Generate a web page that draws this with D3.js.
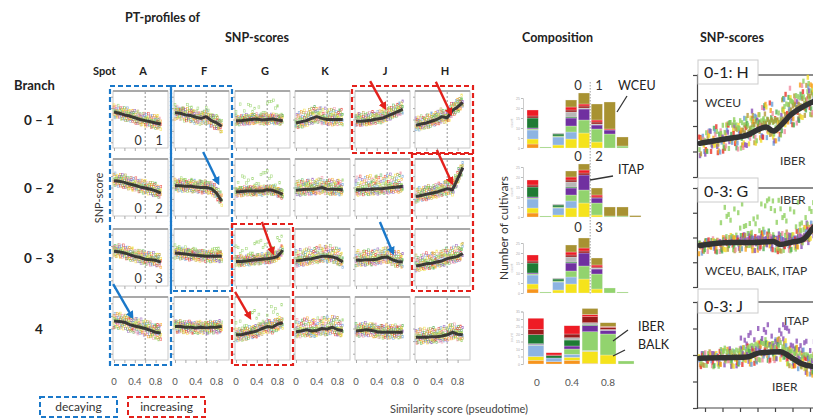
<!DOCTYPE html>
<html>
<head>
<meta charset="utf-8">
<script src="https://cdn.jsdelivr.net/npm/d3@7"></script>
<style>
  body { margin: 0; background: #fff; }
  svg { display: block; font-family: Lato, "Open Sans", sans-serif; }
</style>
</head>
<body>
<div id="wrapper"></div>
<script>
// ---- data ----
const spots = ["A", "F", "G", "K", "J", "H"]
const branches = ["0 – 1", "0 – 2", "0 – 3", "4"]
const branchTags = [["0", "1"], ["0", "2"], ["0", "3"], null]
const trendX = [0, 0.1, 0.2, 0.3, 0.4, 0.5, 0.6, 0.7, 0.8, 0.9]

// smoothed SNP-score per spot, one row per branch (A, F, G, K, J, H)
const trendBranch01 = [
  [0.63, 0.61, 0.58, 0.56, 0.53, 0.50, 0.48, 0.46, 0.44, 0.42],
  [0.62, 0.61, 0.58, 0.57, 0.54, 0.52, 0.55, 0.48, 0.44, 0.38],
  [0.48, 0.48, 0.49, 0.50, 0.51, 0.49, 0.50, 0.51, 0.49, 0.48],
  [0.44, 0.46, 0.48, 0.52, 0.55, 0.52, 0.50, 0.50, 0.50, 0.50],
  [0.47, 0.47, 0.48, 0.49, 0.51, 0.52, 0.56, 0.60, 0.64, 0.68],
  [0.40, 0.42, 0.44, 0.47, 0.50, 0.55, 0.53, 0.66, 0.72, 0.80]
]
const trendBranch02 = [
  [0.62, 0.61, 0.59, 0.56, 0.54, 0.51, 0.49, 0.47, 0.44, 0.40],
  [0.53, 0.53, 0.52, 0.52, 0.51, 0.50, 0.50, 0.48, 0.40, 0.26],
  [0.42, 0.43, 0.44, 0.44, 0.44, 0.44, 0.46, 0.45, 0.42, 0.38],
  [0.45, 0.46, 0.47, 0.47, 0.48, 0.50, 0.47, 0.47, 0.47, 0.46],
  [0.46, 0.46, 0.47, 0.47, 0.48, 0.48, 0.49, 0.50, 0.51, 0.52],
  [0.34, 0.36, 0.38, 0.40, 0.42, 0.45, 0.48, 0.46, 0.65, 0.85]
]
const trendBranch03 = [
  [0.61, 0.60, 0.58, 0.55, 0.52, 0.50, 0.47, 0.46, 0.45, 0.42],
  [0.58, 0.57, 0.56, 0.55, 0.54, 0.53, 0.52, 0.52, 0.52, 0.52],
  [0.43, 0.43, 0.44, 0.45, 0.46, 0.47, 0.48, 0.49, 0.52, 0.63],
  [0.44, 0.45, 0.47, 0.48, 0.50, 0.52, 0.52, 0.51, 0.48, 0.42],
  [0.45, 0.45, 0.46, 0.46, 0.47, 0.50, 0.51, 0.46, 0.43, 0.42],
  [0.35, 0.37, 0.39, 0.40, 0.42, 0.44, 0.48, 0.50, 0.52, 0.57]
]
const trendBranch4 = [
  [0.62, 0.61, 0.60, 0.56, 0.54, 0.52, 0.50, 0.47, 0.44, 0.43],
  [0.53, 0.53, 0.52, 0.52, 0.51, 0.52, 0.51, 0.52, 0.52, 0.53],
  [0.40, 0.40, 0.42, 0.44, 0.46, 0.50, 0.53, 0.52, 0.57, 0.59],
  [0.45, 0.46, 0.48, 0.46, 0.47, 0.50, 0.49, 0.52, 0.48, 0.47],
  [0.46, 0.47, 0.48, 0.47, 0.45, 0.44, 0.44, 0.44, 0.44, 0.44],
  [0.36, 0.36, 0.36, 0.37, 0.37, 0.38, 0.40, 0.44, 0.41, 0.40]
]
const trends = [trendBranch01, trendBranch02, trendBranch03, trendBranch4]

// spread of the single-cultivar scores around the trend (above / below), green outliers
const spreadUp = [
  [0.14, 0.12, 0.10, 0.20, 0.15, 0.15],
  [0.14, 0.12, 0.08, 0.18, 0.25, 0.15],
  [0.14, 0.10, 0.10, 0.20, 0.18, 0.20],
  [0.14, 0.10, 0.10, 0.20, 0.12, 0.15]
]
const spreadDown = [
  [0.10, 0.12, 0.08, 0.10, 0.08, 0.10],
  [0.10, 0.10, 0.08, 0.10, 0.10, 0.10],
  [0.10, 0.10, 0.08, 0.10, 0.10, 0.10],
  [0.12, 0.10, 0.10, 0.10, 0.10, 0.10]
]
const greenUp = [
  [0.05, 0.20, 0.35, 0.10, 0.10, 0.10],
  [0.05, 0.15, 0.35, 0.10, 0.10, 0.15],
  [0.05, 0.15, 0.35, 0.05, 0.05, 0.10],
  [0.05, 0.05, 0.35, 0.05, 0.05, 0.05]
]
const jitter = [0.62, -0.35, 0.88, -0.71, 0.15, -0.93, 0.44, -0.12, 0.77, -0.54,
  0.29, -0.82, 0.95, -0.25, 0.51, -0.66, 0.08, -0.47, 0.70, -0.05,
  0.36, -0.89, 0.58, -0.31, 0.21, -0.76, 0.83, -0.18, 0.40]
const dotColors = ["#e8332a", "#f7a21b", "#f2dc2b", "#8fcf5f", "#4fae4f",
  "#6a9fd8", "#8a4fb5", "#b59a3a", "#f08ca0"]

// highlighted profiles
const decaying = [{ cols: [0, 0], rows: [0, 3] }, { cols: [1, 1], rows: [0, 2] }]
const increasing = [{ cols: [4, 5], rows: [0, 0] }, { cols: [5, 5], rows: [1, 2] }, { cols: [2, 2], rows: [2, 3] }]
// arrows: tip in panel coordinates, tail as pixel offset
const arrows = [
  { kind: "red", row: 0, col: 4, x: 0.56, y: 0.70, dx: -15, dy: -27 },
  { kind: "red", row: 0, col: 5, x: 0.67, y: 0.60, dx: -15, dy: -32 },
  { kind: "red", row: 1, col: 5, x: 0.69, y: 0.58, dx: -15, dy: -33 },
  { kind: "blue", row: 1, col: 1, x: 0.83, y: 0.58, dx: -15, dy: -31 },
  { kind: "red", row: 2, col: 2, x: 0.71, y: 0.58, dx: -11, dy: -31 },
  { kind: "red", row: 3, col: 2, x: 0.27, y: 0.67, dx: -15, dy: -26 },
  { kind: "blue", row: 2, col: 4, x: 0.71, y: 0.58, dx: -13, dy: -31 },
  { kind: "blue", row: 3, col: 0, x: 0.35, y: 0.68, dx: -19, dy: -33 }
]

// composition: number of cultivars per pseudotime bin, stacked by group
const groups = ["orange", "BALK", "blue", "IBER", "ITAP", "darkgreen", "grey", "darkred", "red", "WCEU"]
const groupColors = ["#f7941d", "#f5e31c", "#8db4e2", "#92d36e", "#7030a0",
  "#1e7b34", "#b7b7b7", "#9b1b1b", "#ee1c25", "#a89232"]
const comp01 = [
  [2, 2.5, 4.5, 0.5, 0.5, 5, 0, 1, 3, 0],
  [0, 0, 0, 0.5, 0, 0, 0, 0, 0, 0],
  [0, 1.5, 4, 0.5, 0, 1, 0.5, 0, 0, 0],
  [0, 4.5, 3.5, 3, 4, 0.5, 2.5, 1, 1.5, 3.5],
  [0, 7.5, 0, 6.5, 5.5, 0, 0.5, 1, 1, 5.5],
  [0, 3, 0, 6.5, 2, 0, 0.5, 1, 1, 8],
  [0, 0, 0, 7, 2, 0, 0, 0, 0.5, 13.5],
  [0, 0, 0, 1, 0, 0, 0, 0, 0, 4.5],
  [0, 0, 0, 0, 0, 0, 0, 0, 0, 0]
]
const comp02 = [
  [2, 2.5, 4.5, 0.5, 0.5, 5, 0, 1, 2.5, 0],
  [0, 0, 0, 0.5, 0, 0, 0, 0, 0, 0],
  [0, 1, 3.5, 0.5, 0, 1, 0.5, 0, 0, 0],
  [0, 4.5, 3.5, 3, 3.5, 0.5, 2.5, 1, 1.5, 3],
  [0, 7, 0, 6.5, 7.5, 0, 0, 1, 1.5, 3],
  [0, 1, 0, 6, 2.5, 0, 0, 0.5, 1, 3.5],
  [0, 0, 0, 0.5, 0, 0, 0, 0, 0, 4.5],
  [0, 0, 0, 0.5, 0, 0, 0, 0, 0, 4.5],
  [0, 0, 0, 0, 0, 0, 0, 0, 0, 0.7]
]
const comp03 = [
  [2, 2.5, 4.5, 0.5, 0.5, 5, 0, 1, 3, 0],
  [0, 0, 0, 0.5, 0, 0, 0, 0, 0, 0],
  [0, 1.5, 4, 0.5, 0, 1, 0.5, 0, 0, 0],
  [0, 4.5, 3.5, 3, 4, 0.5, 2.5, 1, 1.5, 3.5],
  [0, 7, 0, 6.5, 6.5, 0, 0, 1, 1.5, 5],
  [0, 2, 0, 7.5, 2.5, 0, 0.5, 0.5, 1, 3.5],
  [0, 0, 0, 2.5, 0, 0, 0, 0, 0, 0],
  [0, 0, 0, 0.5, 0, 0, 0, 0, 0, 0],
  [0, 0, 0, 0, 0, 0, 0, 0, 0, 0]
]
const comp4 = [
  [2.5, 2.5, 7.5, 0.5, 0.5, 6, 0, 3.5, 7.5, 0],
  [1.5, 0, 2.5, 0, 0, 1.5, 0, 0.5, 1.5, 0],
  [2.5, 2, 2, 3.5, 2, 4, 1.5, 2.5, 5.5, 0],
  [0.5, 8, 0.5, 12.5, 4, 0.5, 1.5, 4, 1.5, 4],
  [0, 6, 0, 14, 2.5, 0, 0.5, 1.5, 0.5, 2.5],
  [0, 0, 0, 2, 0, 0, 0, 0, 0, 0]
]
const compTicks = [0, 5, 10, 15, 20, 25]
const comp4Ticks = [0, 5, 10, 15, 20, 25, 30, 35]
const compXLabels = ["0", "0.4", "0.8"]

// zoomed SNP-score profiles on the right
const zoomTitles = ["0-1: H", "0-3: G", "0-3: J"]
const zoomX1 = [-0.03, 0.14, 0.24, 0.31, 0.35, 0.39, 0.43, 0.49, 0.56, 0.62, 0.71]
const zoomY1 = [0.33, 0.38, 0.41, 0.47, 0.49, 0.45, 0.50, 0.61, 0.69, 0.74, 0.80]
const zoomX2 = [-0.03, 0.14, 0.27, 0.39, 0.43, 0.49, 0.56, 0.62, 0.70]
const zoomY2 = [0.42, 0.45, 0.45, 0.46, 0.43, 0.45, 0.48, 0.60, 0.72]
const zoomX3 = [-0.03, 0.24, 0.31, 0.43, 0.49, 0.55, 0.62, 0.70]
const zoomY3 = [0.47, 0.48, 0.52, 0.53, 0.48, 0.42, 0.39, 0.38]
const zoomUp = [0.28, 0.12, 0.14]
const zoomDown = [0.13, 0.09, 0.09]
const zoomGreen = [0.12, 0.42, 0.06]
const zoomPurple = [0.08, 0.03, 0.26]

// ---- layout ----
const colLeft = [114, 175, 236, 296, 356, 416]
const rowTop = [91, 159, 229, 297]
const rowH = [57, 57, 57, 63]
const panelW = 52

const svg = d3.select("#wrapper").append("svg")
    .attr("width", 813)
    .attr("height", 419)

const defs = svg.append("defs")
const arrowColor = { red: "#e3211c", blue: "#1a78c9" }
Object.entries(arrowColor).forEach(([id, col]) => {
  defs.append("marker")
      .attr("id", "head-" + id)
      .attr("viewBox", "0 0 10 10")
      .attr("refX", 7).attr("refY", 5)
      .attr("markerWidth", 3.4).attr("markerHeight", 3.4)
      .attr("orient", "auto")
    .append("path")
      .attr("d", "M0,0L10,5L0,10z")
      .attr("fill", col)
})

function label(x, y, txt, opts = {}) {
  return svg.append("text")
      .attr("x", x).attr("y", y)
      .attr("font-size", opts.size || 12)
      .attr("font-weight", opts.bold ? 700 : 400)
      .attr("fill", opts.color || "#222")
      .attr("text-anchor", opts.anchor || "start")
      .text(txt)
}

// headings
label(125, 22, "PT-profiles of", { bold: true, size: 12.5 })
label(225, 42, "SNP-scores", { bold: true, size: 12.5 })
label(522, 42, "Composition", { bold: true, size: 12.5 })
label(700, 42, "SNP-scores", { bold: true, size: 12.5 })
label(14, 90, "Branch", { bold: true, size: 13 })
label(93, 75, "Spot", { bold: true, size: 11 })
spots.forEach((s, c) => label(colLeft[c] + 29, 75, s, { bold: true, size: 11, anchor: "middle" }))
branches.forEach((b, r) => label(39, rowTop[r] + rowH[r] / 2 + 5, b, { bold: true, size: 13.5, anchor: "middle" }))

svg.append("text")
    .attr("transform", "translate(103,198) rotate(-90)")
    .attr("text-anchor", "middle")
    .attr("font-size", 11)
    .attr("fill", "#333")
    .text("SNP-score")

// ---- PT-profile panels ----
const panelScales = []
trends.forEach((row, r) => {
  panelScales[r] = []
  row.forEach((values, c) => {
    const L = colLeft[c], T = rowTop[r], Hh = rowH[r]
    const x = d3.scaleLinear().domain([0, 1]).range([L, L + panelW])
    const y = d3.scaleLinear().domain([0, 1]).range([T + Hh, T])
    panelScales[r][c] = { x, y }
    const g = svg.append("g")

    g.append("rect")
        .attr("x", L - 1).attr("y", T)
        .attr("width", panelW + 3).attr("height", Hh)
        .attr("fill", "#fff")
        .attr("stroke", "#c8c8c8")
        .attr("stroke-width", 1)
    g.append("line")
        .attr("x1", L - 1).attr("x2", L + panelW + 2)
        .attr("y1", T).attr("y2", T)
        .attr("stroke", "#a9a9a9").attr("stroke-width", 2)

    const xAxis = g.append("g")
        .attr("transform", `translate(0,${T + Hh})`)
        .call(d3.axisBottom(x).tickValues([0, 0.2, 0.4, 0.6, 0.8]).tickSize(3).tickFormat(""))
    const yAxis = g.append("g")
        .attr("transform", `translate(${L - 1},0)`)
        .call(d3.axisLeft(y).tickValues([0.1, 0.3, 0.5, 0.7, 0.9]).tickSize(2).tickFormat(""))
    ;[xAxis, yAxis].forEach(a => {
      a.select(".domain").remove()
      a.selectAll("line").attr("stroke", "#aaa")
    })

    g.append("line")
        .attr("x1", x(0.6)).attr("x2", x(0.6))
        .attr("y1", T + 1).attr("y2", T + Hh)
        .attr("stroke", "#777").attr("stroke-width", 0.8)
        .attr("stroke-dasharray", "2,2")

    const trendAt = d3.scaleLinear().domain(trendX).range(values)
    const dots = []
    for (let i = 0; i <= 45; i++) {
      const xv = i * 0.02
      for (let k = 0; k < 3; k++) {
        const j = jitter[(i * 3 + k + r * 7 + c * 5) % jitter.length]
        const yv = trendAt(xv) + (j > 0 ? j * spreadUp[r][c] : j * spreadDown[r][c])
        dots.push({ x: xv, y: yv, color: dotColors[(i * 3 + k + c) % dotColors.length] })
      }
      if (i % 2 === 0) {
        const j = Math.abs(jitter[(i * 5 + r + c * 3) % jitter.length])
        dots.push({ x: xv, y: trendAt(xv) + j * greenUp[r][c], color: "#8fcf5f" })
      }
    }
    g.selectAll(".dot").data(dots).join("rect")
        .attr("x", d => x(d.x) - 0.9)
        .attr("y", d => y(d.y) - 1.2)
        .attr("width", 1.8).attr("height", 2.4)
        .attr("fill", "none")
        .attr("stroke", d => d.color)
        .attr("stroke-width", 0.6)
        .attr("opacity", 0.75)

    g.append("path")
        .datum(trendX.map((xv, i) => [xv, values[i]]))
        .attr("d", d3.line().x(d => x(d[0])).y(d => y(d[1])))
        .attr("fill", "none")
        .attr("stroke", "#2b2b2b")
        .attr("stroke-width", 3)
        .attr("stroke-linejoin", "round")
        .attr("opacity", 0.9)

    if (c === 0 && branchTags[r]) {
      label(L + 24, T + Hh - 3, branchTags[r][0], { size: 12.5, color: "#333", anchor: "middle" })
      label(L + 45, T + Hh - 3, branchTags[r][1], { size: 12.5, color: "#333", anchor: "middle" })
    }
  })
})

// column tick labels
colLeft.forEach(L => {
  const x = d3.scaleLinear().domain([0, 1]).range([L, L + panelW])
  ;[0, 0.4, 0.8].forEach(v => label(x(v), 385, String(v), { size: 9.5, color: "#555", anchor: "middle" }))
})

// dashed boxes
function dashedBox(b, col) {
  const x0 = colLeft[b.cols[0]] - 4, x1 = colLeft[b.cols[1]] + 57
  const y0 = rowTop[b.rows[0]] - 5, y1 = rowTop[b.rows[1]] + rowH[b.rows[1]] + 5
  svg.append("rect")
      .attr("x", x0).attr("y", y0)
      .attr("width", x1 - x0).attr("height", y1 - y0)
      .attr("fill", "none")
      .attr("stroke", col).attr("stroke-width", 2.2)
      .attr("stroke-dasharray", "5,3")
}
decaying.forEach(b => dashedBox(b, arrowColor.blue))
increasing.forEach(b => dashedBox(b, arrowColor.red))

arrows.forEach(a => {
  const s = panelScales[a.row][a.col]
  const tx = s.x(a.x), ty = s.y(a.y)
  svg.append("line")
      .attr("x1", tx + a.dx).attr("y1", ty + a.dy)
      .attr("x2", tx).attr("y2", ty)
      .attr("stroke", arrowColor[a.kind])
      .attr("stroke-width", 2.4)
      .attr("marker-end", `url(#head-${a.kind})`)
})

// legend
;[["decaying", arrowColor.blue, 40], ["increasing", arrowColor.red, 128]].forEach(([t, col, x0]) => {
  svg.append("rect")
      .attr("x", x0).attr("y", 397)
      .attr("width", 77).attr("height", 20)
      .attr("fill", "none")
      .attr("stroke", col).attr("stroke-width", 2)
      .attr("stroke-dasharray", "5,3")
  label(x0 + 38.5, 411, t, { size: 12, color: "#333", anchor: "middle" })
})
label(390, 413, "Similarity score (pseudotime)", { size: 11, color: "#444" })

// ---- composition ----
const compCharts = [
  { data: comp01, base: 148, bins: 9, max: 25, ticks: compTicks },
  { data: comp02, base: 217, bins: 9, max: 25, ticks: compTicks },
  { data: comp03, base: 293, bins: 9, max: 25, ticks: compTicks },
  { data: comp4, base: 364, bins: 6, max: 35, ticks: comp4Ticks }
]
const stack = d3.stack().keys(groups)
const compX = []
compCharts.forEach((ch, ci) => {
  const x = d3.scaleBand()
      .domain(d3.range(ch.bins))
      .range(ch.bins === 9 ? [527, 641] : [528, 634])
      .paddingInner(0.12)
  compX.push(x)
  const h = ch.max === 25 ? 50 : 52.5
  const y = d3.scaleLinear().domain([0, ch.max]).range([ch.base, ch.base - h])
  const rows = ch.data.map((vals, i) => {
    const o = { bin: i }
    groups.forEach((gk, k) => o[gk] = vals[k])
    return o
  })
  const series = stack(rows)
  const g = svg.append("g")
  g.selectAll("g").data(series).join("g")
      .attr("fill", (d, i) => groupColors[i])
    .selectAll("rect").data(d => d).join("rect")
      .attr("x", d => x(d.data.bin))
      .attr("y", d => y(d[1]))
      .attr("width", x.bandwidth())
      .attr("height", d => Math.max(0, y(d[0]) - y(d[1])))
      .attr("stroke", "#eee")
      .attr("stroke-width", 0.3)

  const ax = g.append("g")
      .attr("transform", "translate(523,0)")
      .call(d3.axisLeft(y).tickValues(ch.ticks).tickSize(2))
  ax.select(".domain").attr("stroke", "#ccc")
  ax.selectAll("line").attr("stroke", "#bbb")
  ax.selectAll("text").attr("font-size", 3.5).attr("fill", "#aaa").attr("x", -3)
  svg.append("text")
      .attr("transform", `translate(513,${ch.base - h / 2}) rotate(-90)`)
      .attr("text-anchor", "middle")
      .attr("font-size", 3.5)
      .attr("fill", "#bbb")
      .text("count")
})

// dotted separator through the first three composition charts
svg.append("line")
    .attr("x1", compX[0](5) - 1).attr("x2", compX[0](5) - 1)
    .attr("y1", 82).attr("y2", 294)
    .attr("stroke", "#888").attr("stroke-width", 0.8)
    .attr("stroke-dasharray", "1.5,1.5")

;[["0", "1", 90], ["0", "2", 161], ["0", "3", 232]].forEach(([a, b, yb]) => {
  label(578, yb, a, { size: 13, color: "#333", anchor: "middle" })
  label(599, yb, b, { size: 13, color: "#333", anchor: "middle" })
})
const compCallouts = [
  ["WCEU", 618, 90, 627, 96, 617, 112],
  ["ITAP", 618, 174, 613, 176, 590, 180],
  ["IBER", 638, 331, 628, 330, 613, 341],
  ["BALK", 638, 349, 625, 350, 613, 356]
]
compCallouts.forEach(([t, tx, ty, x1, y1, x2, y2]) => {
  label(tx, ty, t, { size: 12.5, color: "#222" })
  svg.append("line")
      .attr("x1", x1).attr("y1", y1).attr("x2", x2).attr("y2", y2)
      .attr("stroke", "#333").attr("stroke-width", 1.3)
})
const x4 = compX[3]
compXLabels.forEach((t, i) => {
  label(x4(i * 2) + x4.bandwidth() / 2 + (i === 0 ? 1 : 0), 386, t, { size: 10, color: "#555", anchor: "middle" })
})
svg.append("text")
    .attr("transform", "translate(508,228) rotate(-90)")
    .attr("text-anchor", "middle")
    .attr("font-size", 12)
    .attr("fill", "#333")
    .text("Number of cultivars")

// ---- zoomed profiles ----
const zoomPanels = [
  { xs: zoomX1, ys: zoomY1, top: 75, bottom: 177, box: 60, base: 78 },
  { xs: zoomX2, ys: zoomY2, top: 188, bottom: 287, box: 178, base: 197 },
  { xs: zoomX3, ys: zoomY3, top: 302, bottom: 408, box: 289, base: 312 }
]
const zx = d3.scaleLinear().domain([0, 1]).range([705, 880])
zoomPanels.forEach((p, pi) => {
  const y = d3.scaleLinear().domain([0, 1]).range([p.bottom, p.top])
  const g = svg.append("g")
  g.append("line")
      .attr("x1", 697).attr("x2", 813).attr("y1", p.top).attr("y2", p.top)
      .attr("stroke", "#666").attr("stroke-width", 1.5)
  const ay = g.append("g")
      .attr("transform", "translate(697,0)")
      .call(d3.axisLeft(y).tickValues([0, 0.25, 0.5, 0.75, 1]).tickSize(4).tickFormat(""))
  ay.select(".domain").attr("stroke", "#444").attr("stroke-width", 1.2)
  ay.selectAll("line").attr("stroke", "#444").attr("stroke-width", 1.2)
  if (pi === 2) {
    const axx = g.append("g")
        .attr("transform", `translate(0,${p.bottom})`)
        .call(d3.axisBottom(zx).tickValues([0, 0.1, 0.2, 0.3, 0.4, 0.5, 0.6]).tickSize(4).tickFormat(""))
    axx.select(".domain").attr("stroke", "#444").attr("stroke-width", 1.2).attr("d", "M697,0H813")
    axx.selectAll("line").attr("stroke", "#444").attr("stroke-width", 1.2)
  }

  const trendAt = d3.scaleLinear().domain(p.xs).range(p.ys)
  const dots = []
  for (let i = 0; i <= 60; i++) {
    const xv = -0.03 + i * 0.011
    for (let k = 0; k < 4; k++) {
      const j = jitter[(i * 11 + k * 17 + pi * 5) % jitter.length]
      const yv = trendAt(xv) + (j > 0 ? j * zoomUp[pi] * Math.min(1, 0.4 + xv * 1.5) : j * zoomDown[pi])
      dots.push({ x: xv + (k - 1.5) * 0.003, y: yv, color: dotColors[(i * 7 + k * 3 + pi) % dotColors.length] })
    }
    const jg = Math.abs(jitter[(i * 13 + pi) % jitter.length])
    if (xv > 0.08) dots.push({ x: xv, y: trendAt(xv) + 0.04 + jg * zoomGreen[pi], color: "#8fcf5f" })
    const jp = Math.abs(jitter[(i * 19 + 5 + pi) % jitter.length])
    if (xv > 0.2) dots.push({ x: xv + 0.004, y: trendAt(xv) + 0.02 + jp * zoomPurple[pi], color: pi === 0 ? "#a89232" : "#8a4fb5" })
  }
  g.selectAll(".zdot").data(dots).join("rect")
      .attr("x", d => zx(d.x) - 1.2)
      .attr("y", d => y(d.y) - 2.5)
      .attr("width", 2.4).attr("height", 5)
      .attr("fill", d => d.color)
      .attr("opacity", 0.8)
  g.append("path")
      .datum(p.xs.map((xv, i) => [xv, p.ys[i]]))
      .attr("d", d3.line().x(d => zx(d[0])).y(d => y(d[1])).curve(d3.curveMonotoneX))
      .attr("fill", "none")
      .attr("stroke", "#333")
      .attr("stroke-width", 5.5)
      .attr("stroke-linejoin", "round")
      .attr("stroke-linecap", "round")

  g.append("rect")
      .attr("x", 698).attr("y", p.box)
      .attr("width", 60).attr("height", 24)
      .attr("fill", "#fff")
      .attr("stroke", "#ccc").attr("stroke-width", 1)
  label(704, p.base, zoomTitles[pi], { size: 16, color: "#222" })
})
label(705, 107, "WCEU", { size: 12, color: "#333" })
label(780, 165, "IBER", { size: 12, color: "#333" })
label(780, 204, "IBER", { size: 12, color: "#333" })
label(705, 275, "WCEU, BALK, ITAP", { size: 12, color: "#333" })
label(784, 325, "ITAP", { size: 12, color: "#333" })
label(772, 391, "IBER", { size: 12, color: "#333" })
</script>
</body>
</html>
